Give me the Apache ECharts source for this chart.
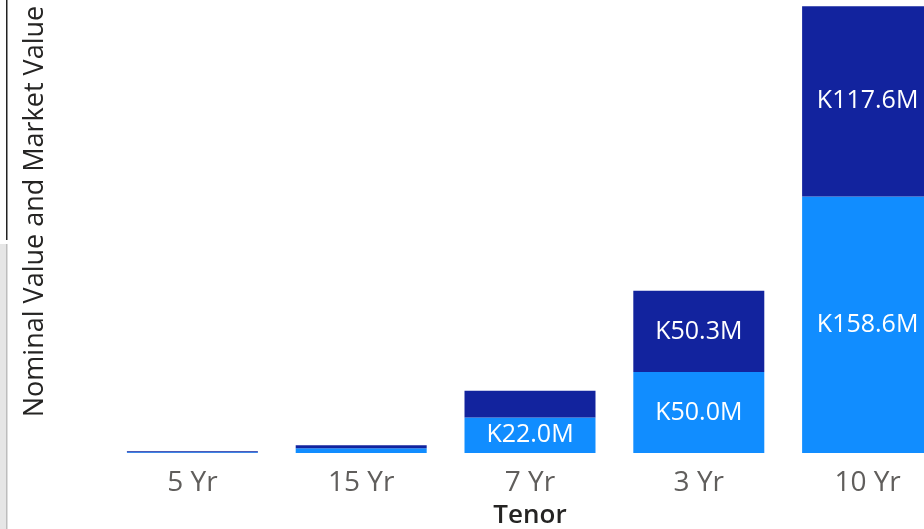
<!DOCTYPE html>
<html>
<head>
<meta charset="utf-8">
<script src="https://cdn.jsdelivr.net/npm/echarts@6/dist/echarts.min.js"></script>
<style>
html,body{margin:0;padding:0;background:#fff;}
#chart{width:924px;height:529px;}
</style>
</head>
<body>
<div id="chart"></div>
<script>
const categories = ['5 Yr', '15 Yr', '7 Yr', '3 Yr', '10 Yr'];
const nominalValue = [0.4, 2.9, 22.0, 50.0, 158.6];
const marketValue = [0.7, 1.9, 16.5, 50.3, 117.6];
const yAxisTitle = 'Nominal Value and Market Value';
const xAxisTitle = 'Tenor';

const FONT = '"Open Sans", "Noto Sans", sans-serif';
const labelFmt = p => p.value >= 20 ? 'K' + p.value.toFixed(1) + 'M' : '';

const chart = echarts.init(document.getElementById('chart'), null, {renderer: 'canvas'});
chart.setOption({
  animation: false,
  grid: {left: 108, top: 0, width: 844, height: 453, containLabel: false, outerBoundsMode: 'none'},
  xAxis: {
    type: 'category',
    data: categories,
    axisLine: {show: false},
    axisTick: {show: false},
    axisLabel: {color: '#605E5C', fontSize: 28, fontFamily: FONT, margin: 16},
    name: xAxisTitle,
    nameLocation: 'middle',
    nameGap: 50,
    nameTextStyle: {color: '#252423', fontSize: 26, fontWeight: 600, fontFamily: FONT}
  },
  yAxis: {
    type: 'value',
    min: 0,
    max: 280,
    show: true,
    axisLine: {show: false},
    axisTick: {show: false},
    axisLabel: {show: false},
    splitLine: {show: false},
    name: yAxisTitle,
    nameLocation: 'middle',
    nameGap: 59,
    nameRotate: 90,
    nameTextStyle: {color: '#252423', fontSize: 27, fontFamily: FONT, padding: [0, 0, 0, 30]}
  },
  series: [
    {
      name: 'Nominal Value',
      type: 'bar',
      stack: 'total',
      data: nominalValue,
      barCategoryGap: '22.4%',
      itemStyle: {color: '#118DFF'},
      label: {show: true, position: 'inside', color: '#fff', fontSize: 25, fontFamily: FONT, formatter: labelFmt}
    },
    {
      name: 'Market Value',
      type: 'bar',
      stack: 'total',
      data: marketValue,
      itemStyle: {color: '#12239E'},
      label: {show: true, position: 'inside', color: '#fff', fontSize: 25, fontFamily: FONT, formatter: labelFmt}
    }
  ],
  graphic: [
    {type: 'rect', shape: {x: 6, y: 0, width: 1.5, height: 240}, style: {fill: '#222'}},
    {type: 'rect', shape: {x: 0, y: 244, width: 7, height: 285}, style: {fill: '#e6e6e6'}},
    {type: 'rect', shape: {x: 6, y: 244, width: 1.5, height: 285}, style: {fill: '#bdbdbd'}}
  ]
});
</script>
</body>
</html>
